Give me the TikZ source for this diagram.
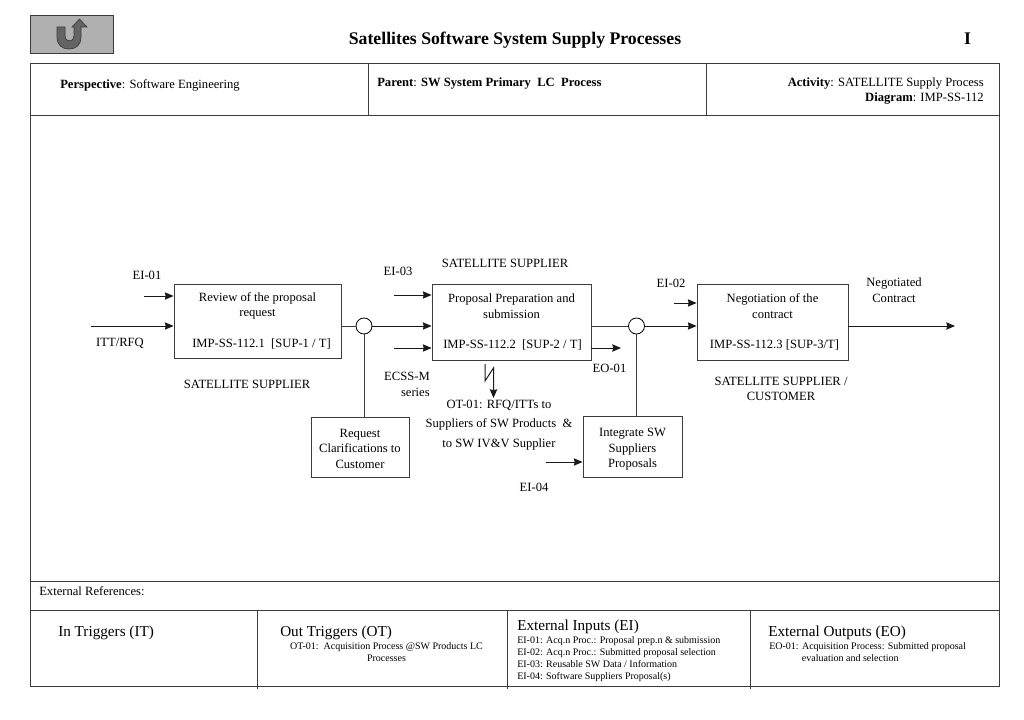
\documentclass[tikz,border=0pt]{standalone}
\usepackage{fontspec}
\setmainfont{Liberation Serif}
\usepackage{tikz}
\usetikzlibrary{arrows.meta,positioning}
\definecolor{ssgrey}{RGB}{176,176,176}
\definecolor{ssdark}{RGB}{100,100,100}
\definecolor{ssline}{RGB}{60,60,60}
\tikzstyle{process} = [rectangle, draw=ssline, fill=white, line width=0.7pt, align=center, inner sep=0pt, font=\fontsize{9.45}{11.6}\selectfont]
\tikzstyle{label} = [inner sep=0pt, align=center, font=\fontsize{9.45}{11.6}\selectfont]
\tikzstyle{small} = [inner sep=0pt, align=left, font=\fontsize{7.5}{9}\selectfont]
\tikzstyle{head} = [inner sep=0pt, font=\fontsize{11.4}{13}\selectfont, anchor=base west]
\tikzstyle{arrow} = [line width=0.75pt,->,>={Stealth[length=6.5pt,width=5.5pt,inset=0.6pt]},color=black!90]
\tikzstyle{line} = [line width=0.75pt,color=ssline]
\tikzstyle{junction} = [circle, draw=black, fill=white, line width=0.6pt, minimum size=12pt, inner sep=0pt]
\tikzstyle{frame} = [line width=0.75pt,color=ssline]
\begin{document}
\begin{tikzpicture}[x=0.75pt,y=-0.75pt]
\useasboundingbox (0,0) rectangle (1024,720);
% top bar
\draw[fill=ssgrey,draw=ssline,line width=0.6pt] (30,15) rectangle (113,53);
\draw[fill=ssdark,draw=ssline,line width=0.5pt] (57,27) -- (57,37) .. controls (57,45) and (62,49) .. (69,49) .. controls (76,49) and (81,45) .. (81,37) -- (81,27) -- (87,27) -- (79.5,19) -- (72,27) -- (74,27) -- (74,36) .. controls (74,39) and (72,41) .. (69.5,41) .. controls (67,41) and (65,39) .. (65,36) -- (65,27) -- cycle;
\node (title) [inner sep=0pt, font=\fontsize{13.3}{15}\bfseries\selectfont, anchor=base] at (515,45) {Satellites Software System Supply Processes};
\node (sheet) [inner sep=0pt, font=\fontsize{13.3}{15}\bfseries\selectfont, anchor=base] at (967.5,45) {I};
% frame
\draw[frame] (30,64) rectangle (999,686);
\draw[frame] (30,116) -- (999,116);
\draw[frame] (368,64) -- (368,116);
\draw[frame] (706,64) -- (706,116);
\draw[frame] (30,581) -- (999,581);
\draw[frame] (30,610) -- (999,610);
\draw[frame] (257,610) -- (257,689);
\draw[frame] (507,610) -- (507,689);
\draw[frame] (750,610) -- (750,689);
% header
\node (persp) [label, anchor=base west] at (60,89) {\textbf{Perspective}: Software Engineering};
\node (parent) [label, anchor=base west] at (377,87) {\textbf{Parent}: \textbf{SW System Primary\ \ LC\ \ Process}};
\node (activity) [label, align=right, anchor=north east] at (984,77.5) {\textbf{Activity}: SATELLITE Supply Process\\\textbf{Diagram}: IMP-SS-112};
% process boxes
\node (review) [process, minimum width=125.25pt, minimum height=55.5pt] at (257.5,321) {Review of the proposal\\request\\[11.6pt]\hspace*{6pt}IMP-SS-112.1\ \ [SUP-1 / T]};
\node (prep) [process, minimum width=119.25pt, minimum height=57pt] at (511.5,322) {Proposal Preparation and\\submission\\[11pt]\hspace*{1.5pt}IMP-SS-112.2\ \ [SUP-2 / T]};
\node (nego) [process, minimum width=113.25pt, minimum height=57pt] at (772.5,322) {Negotiation of the\\contract\\[11pt]\hspace*{3pt}IMP-SS-112.3 [SUP-3/T]};
\node (clarify) [process, minimum width=73.5pt, minimum height=45pt] at (360,447) {\rule{0pt}{9pt}Request\\Clarifications to\\Customer};
\node (integrate) [process, minimum width=74.25pt, minimum height=45.75pt] at (632.5,446.5) {\rule{0pt}{10.5pt}Integrate SW\\Suppliers\\Proposals};
\node (join1) [junction] at (364,326) {};
\node (join2) [junction] at (636.5,326) {};
% free ends
\coordinate (ei1) at (144,296);
\coordinate (itt) at (91,326);
\coordinate (ei3) at (394,295);
\coordinate (ecss) at (394,348);
\coordinate (eo1) at (621,348);
\coordinate (ei2) at (674,303);
\coordinate (ei4) at (546,462);
\coordinate (out) at (955,326);
\coordinate (ot1a) at (485,364);
\coordinate (ot1b) at (485,381);
\coordinate (ot1c) at (493.5,368);
\coordinate (ot1d) at (493.5,398);
% connectors
\draw[arrow] (ei1) -- (review.west |- ei1);
\draw[arrow] (itt) -- (review.west |- itt);
\draw[line] (review.east |- join1) -- (join1);
\draw[arrow] (join1) -- (prep.west |- join1);
\draw[arrow] (ei3) -- (prep.west |- ei3);
\draw[arrow] (ecss) -- (prep.west |- ecss);
\draw[arrow] (prep.east |- eo1) -- (eo1);
\draw[line] (prep.east |- join2) -- (join2);
\draw[arrow] (join2) -- (nego.west |- join2);
\draw[arrow] (ei2) -- (nego.west |- ei2);
\draw[arrow] (nego.east |- out) -- (out);
\draw[line] (clarify.north -| join1) -- (join1);
\draw[line] (integrate.north -| join2) -- (join2);
\draw[arrow] (ei4) -- (integrate.west |- ei4);
\draw[arrow] (ot1a) -- (ot1b) -- (ot1c) -- (ot1d);
% labels
\node (lei1) [label] at (147,275) {EI-01};
\node (litt) [label] at (120,343) {ITT/RFQ};
\node (lsup1) [label] at (247,384) {SATELLITE SUPPLIER};
\node (lei3) [label] at (398,271) {EI-03};
\node (lsup2) [label] at (505,263) {SATELLITE SUPPLIER};
\node (lecss) [label, align=right, anchor=north east] at (430,372) {ECSS-M\\series};
\node (lot1) [label, anchor=north] at (499,399.5) {OT-01: RFQ/ITTs to\\[3pt]Suppliers of SW Products\ \ \&\\[3pt]to SW IV\&V Supplier};
\node (leo1) [label] at (609.5,368) {EO-01};
\node (lei2) [label] at (671,283) {EI-02};
\node (lei4) [label] at (534,487) {EI-04};
\node (lneg) [label] at (894,290) {Negotiated\\Contract};
\node (lsup3) [label] at (781,389) {SATELLITE SUPPLIER /\\CUSTOMER};
% external references
\node (extref) [label, anchor=base west] at (39,595) {External References:};
\node (hit) [head] at (58,636) {In Triggers (IT)};
\node (hot) [head] at (280,636) {Out Triggers (OT)};
\node (hei) [head] at (517,630) {External Inputs (EI)};
\node (heo) [head] at (768,636) {External Outputs (EO)};
\node (tot) [small, align=center, anchor=north] at (386.5,642) {OT-01:\ \ Acquisition Process @SW Products LC\\Processes};
\node (tei) [small, anchor=north west] at (517,636.5) {EI-01: Acq.n Proc.: Proposal prep.n \& submission\\EI-02: Acq.n Proc.: Submitted proposal selection\\EI-03: Reusable SW Data / Information\\EI-04: Software Suppliers Proposal(s)};
\node (teo) [small, anchor=north west] at (769,642.5) {EO-01: Acquisition Process: Submitted proposal\\\hspace{24.5pt}evaluation and selection};
\end{tikzpicture}
\end{document}
